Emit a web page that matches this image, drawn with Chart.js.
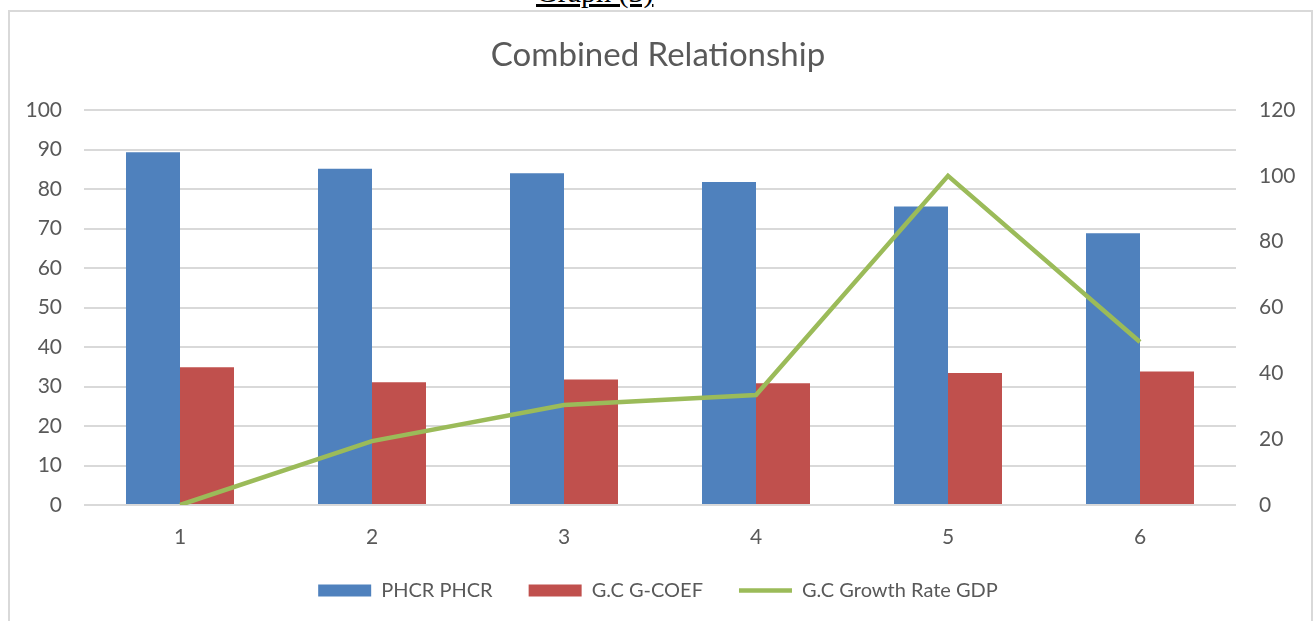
<!DOCTYPE html>
<html>
<head>
<meta charset="utf-8">
<script src="https://cdn.jsdelivr.net/npm/chart.js@4"></script>
<style>
  body { margin: 0; background: #fff; overflow: hidden; }
  #frame { position: absolute; left: 8px; top: 10px; width: 1301px; height: 700px; border: 2px solid #d9d9d9; }
  #caption { position: absolute; left: 536px; top: -23px; font-family: "Liberation Serif", serif; font-size: 30px; line-height: 30px; text-decoration: underline; color: #000; }
  canvas { position: absolute; left: 0; top: 0; }
</style>
</head>
<body>
<div id="caption">Graph (3)</div>
<div id="frame"></div>
<canvas id="myChart" width="1316" height="621"></canvas>
<script>
const categories = ['1', '2', '3', '4', '5', '6']
const phcr = [89.3, 85.1, 84.0, 81.8, 75.6, 68.8]
const gCoef = [34.9, 31.1, 31.8, 30.8, 33.4, 33.8]
const growthRate = [0, 19.4, 30.4, 33.4, 100, 49.5]
const leftTicks = [0, 100, 10]
const rightTicks = [0, 120, 20]

const grey = '#595959'
const font = "Lato, 'Open Sans', sans-serif"

// legend needs wide gaps between items but should sit closer to the axis labels
const legendLift = {
    id: 'legendLift',
    afterLayout(chart) {
        chart.legend.top -= 10.5
        chart.legend.bottom -= 10.5
    }
}

var ctx = document.getElementById('myChart').getContext('2d');
var myChart = new Chart(ctx, {
    type: 'bar',
    data: {
        labels: categories,
        datasets: [{
            label: 'PHCR PHCR',
            data: phcr,
            backgroundColor: '#4F81BD',
            pointStyle: 'rect',
            order: 1
        }, {
            label: 'G.C G-COEF',
            data: gCoef,
            backgroundColor: '#C0504D',
            pointStyle: 'rect',
            order: 1
        }, {
            type: 'line',
            label: 'G.C Growth Rate GDP',
            data: growthRate,
            borderColor: '#9BBB59',
            backgroundColor: '#9BBB59',
            borderWidth: 4.5,
            pointRadius: 0,
            pointStyle: 'line',
            tension: 0,
            yAxisID: 'y1',
            order: 0
        }]
    },
    plugins: [legendLift],
    options: {
        responsive: false,
        animation: false,
        layout: { padding: { top: 0, bottom: 0 } },
        datasets: {
            bar: { categoryPercentage: 0.5625, barPercentage: 1 }
        },
        plugins: {
            title: {
                display: true,
                text: 'Combined Relationship',
                color: grey,
                font: { family: font, size: 33, weight: 'normal' },
                padding: { top: 36, bottom: 34.4 }
            },
            legend: {
                position: 'bottom',
                labels: {
                    usePointStyle: true,
                    pointStyleWidth: 53,
                    boxHeight: 12,
                    color: grey,
                    padding: 36,
                    font: { family: font, size: 20 },
                    sort: (a, b) => a.datasetIndex - b.datasetIndex
                }
            },
            tooltip: { enabled: false }
        },
        scales: {
            x: {
                grid: { display: false, drawTicks: false },
                border: { display: false },
                ticks: { color: grey, padding: 20, font: { family: font, size: 21 } },
                afterFit: (scale) => { scale.height = 50 }
            },
            y: {
                position: 'left',
                min: leftTicks[0],
                max: leftTicks[1],
                ticks: { stepSize: leftTicks[2], color: grey, padding: 22, font: { family: font, size: 21 } },
                grid: { color: '#d9d9d9', lineWidth: 2, drawTicks: false },
                border: { display: false },
                afterFit: (scale) => { scale.width = 84 }
            },
            y1: {
                position: 'right',
                min: rightTicks[0],
                max: rightTicks[1],
                ticks: { stepSize: rightTicks[2], color: grey, padding: 23, font: { family: font, size: 21 } },
                grid: { display: false, drawTicks: false },
                border: { display: false },
                afterFit: (scale) => { scale.width = 80 }
            }
        }
    }
});
</script>
</body>
</html>
